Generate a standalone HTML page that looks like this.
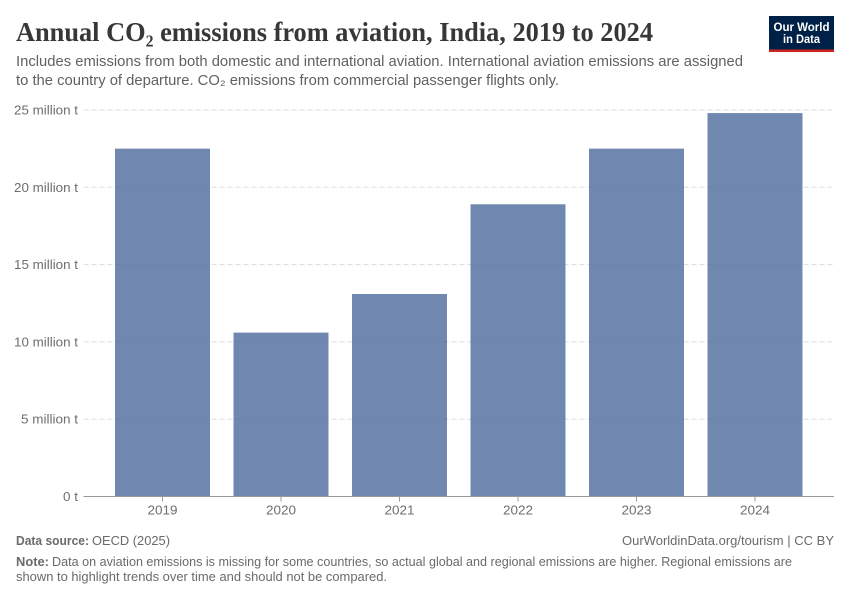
<!DOCTYPE html>
<html lang="en">
<head>
<meta charset="utf-8">
<title>Annual CO₂ emissions from aviation, India, 2019 to 2024</title>
<style>
html,body{margin:0;padding:0;background:#fff;width:850px;height:600px;overflow:hidden}
svg{display:block}
text{font-family:"Liberation Sans",sans-serif}
.title{font-family:"Liberation Serif",serif;font-weight:700;font-size:27px;fill:#373737}
.sub{font-size:14.5px;fill:#616161}
.tick{font-size:12.5px;fill:#6e6e6e}
.foot{font-size:12.5px;fill:#6a6a6a}
</style>
</head>
<body>
<svg id="chart" xmlns="http://www.w3.org/2000/svg" width="850" height="600" viewBox="0 0 850 600">
<text class="title" x="16" y="41" textLength="637" lengthAdjust="spacingAndGlyphs">Annual CO₂ emissions from aviation, India, 2019 to 2024</text>
<text class="sub" x="16" y="66" textLength="727" lengthAdjust="spacingAndGlyphs">Includes emissions from both domestic and international aviation. International aviation emissions are assigned</text>
<text class="sub" x="16" y="85" textLength="543" lengthAdjust="spacingAndGlyphs">to the country of departure. CO₂ emissions from commercial passenger flights only.</text>
<g>
<rect x="769" y="16" width="65" height="36" fill="#002147"/>
<rect x="769" y="49.5" width="65" height="2.5" fill="#ce261e"/>
<text x="801.5" y="31" text-anchor="middle" font-size="12" font-weight="700" fill="#fff" textLength="56" lengthAdjust="spacingAndGlyphs">Our World</text>
<text x="801.5" y="43" text-anchor="middle" font-size="12" font-weight="700" fill="#fff" textLength="37" lengthAdjust="spacingAndGlyphs">in Data</text>
</g>
<g id="grid"></g>
<g id="bars"></g>
<g id="axes"></g>
<text class="foot" x="16" y="545"><tspan font-weight="700" textLength="73" lengthAdjust="spacingAndGlyphs">Data source:</tspan><tspan dx="3" textLength="78" lengthAdjust="spacingAndGlyphs">OECD (2025)</tspan></text>
<text class="foot" x="834" y="545" text-anchor="end" textLength="212" lengthAdjust="spacingAndGlyphs">OurWorldinData.org/tourism | CC BY</text>
<text class="foot" x="16" y="566"><tspan font-weight="700" textLength="33" lengthAdjust="spacingAndGlyphs">Note:</tspan><tspan dx="3" textLength="740" lengthAdjust="spacingAndGlyphs">Data on aviation emissions is missing for some countries, so actual global and regional emissions are higher. Regional emissions are</tspan></text>
<text class="foot" x="16" y="581" textLength="371" lengthAdjust="spacingAndGlyphs">shown to highlight trends over time and should not be compared.</text>
</svg>
<script>
const years = ['2019', '2020', '2021', '2022', '2023', '2024'];
const emissions = [22.5, 10.6, 13.1, 18.9, 22.5, 24.8];
const tickValues = [0, 5, 10, 15, 20, 25];
const tickLabels = ['0 t', '5 million t', '10 million t', '15 million t', '20 million t', '25 million t'];

const NS = 'http://www.w3.org/2000/svg';
const plot = { left: 83.5, right: 834, zero: 496.5, top: 110, maxValue: 25, firstCenter: 162.5, step: 118.5, barWidth: 95 };
const yScale = function (v) { return plot.zero - (v / plot.maxValue) * (plot.zero - plot.top); };
const xScale = function (i) { return plot.firstCenter + i * plot.step; };
const make = function (tag, attrs, parent) {
  const el = document.createElementNS(NS, tag);
  Object.keys(attrs).forEach(function (k) { el.setAttribute(k, attrs[k]); });
  parent.appendChild(el);
  return el;
};
const grid = document.getElementById('grid');
const bars = document.getElementById('bars');
const axes = document.getElementById('axes');

tickValues.forEach(function (v, i) {
  const y = yScale(v);
  if (v !== 0) {
    const line = make('line', { x1: plot.left, x2: plot.right, y1: y, y2: y, stroke: '#dddddd', 'stroke-dasharray': '5,3' }, grid);
    
    
  }
  const label = make('text', { class: 'tick', x: 78, y: y + 4.5, 'text-anchor': 'end', textLength: i === 0 ? 15 : (v < 10 ? 57 : 64), lengthAdjust: 'spacingAndGlyphs' }, axes);
  label.textContent = tickLabels[i];
  
  
});

years.forEach(function (year, i) {
  const cx = xScale(i);
  const top = yScale(emissions[i]);
  const bar = make('rect', { x: cx - plot.barWidth / 2, y: top, width: plot.barWidth, height: plot.zero - top, fill: '#4c6a9c', 'fill-opacity': 0.8 }, bars);
  
  
  const tick = make('line', { x1: cx, x2: cx, y1: plot.zero, y2: plot.zero + 5, stroke: '#999999' }, axes);
  
  
  const label = make('text', { class: 'tick', x: cx, y: 514.5, 'text-anchor': 'middle', textLength: 30, lengthAdjust: 'spacingAndGlyphs' }, axes);
  label.textContent = year;
  
  
});

const axisLine = make('line', { x1: plot.left, x2: plot.right, y1: plot.zero, y2: plot.zero, stroke: '#999999' }, axes);


</script>
</body>
</html>
